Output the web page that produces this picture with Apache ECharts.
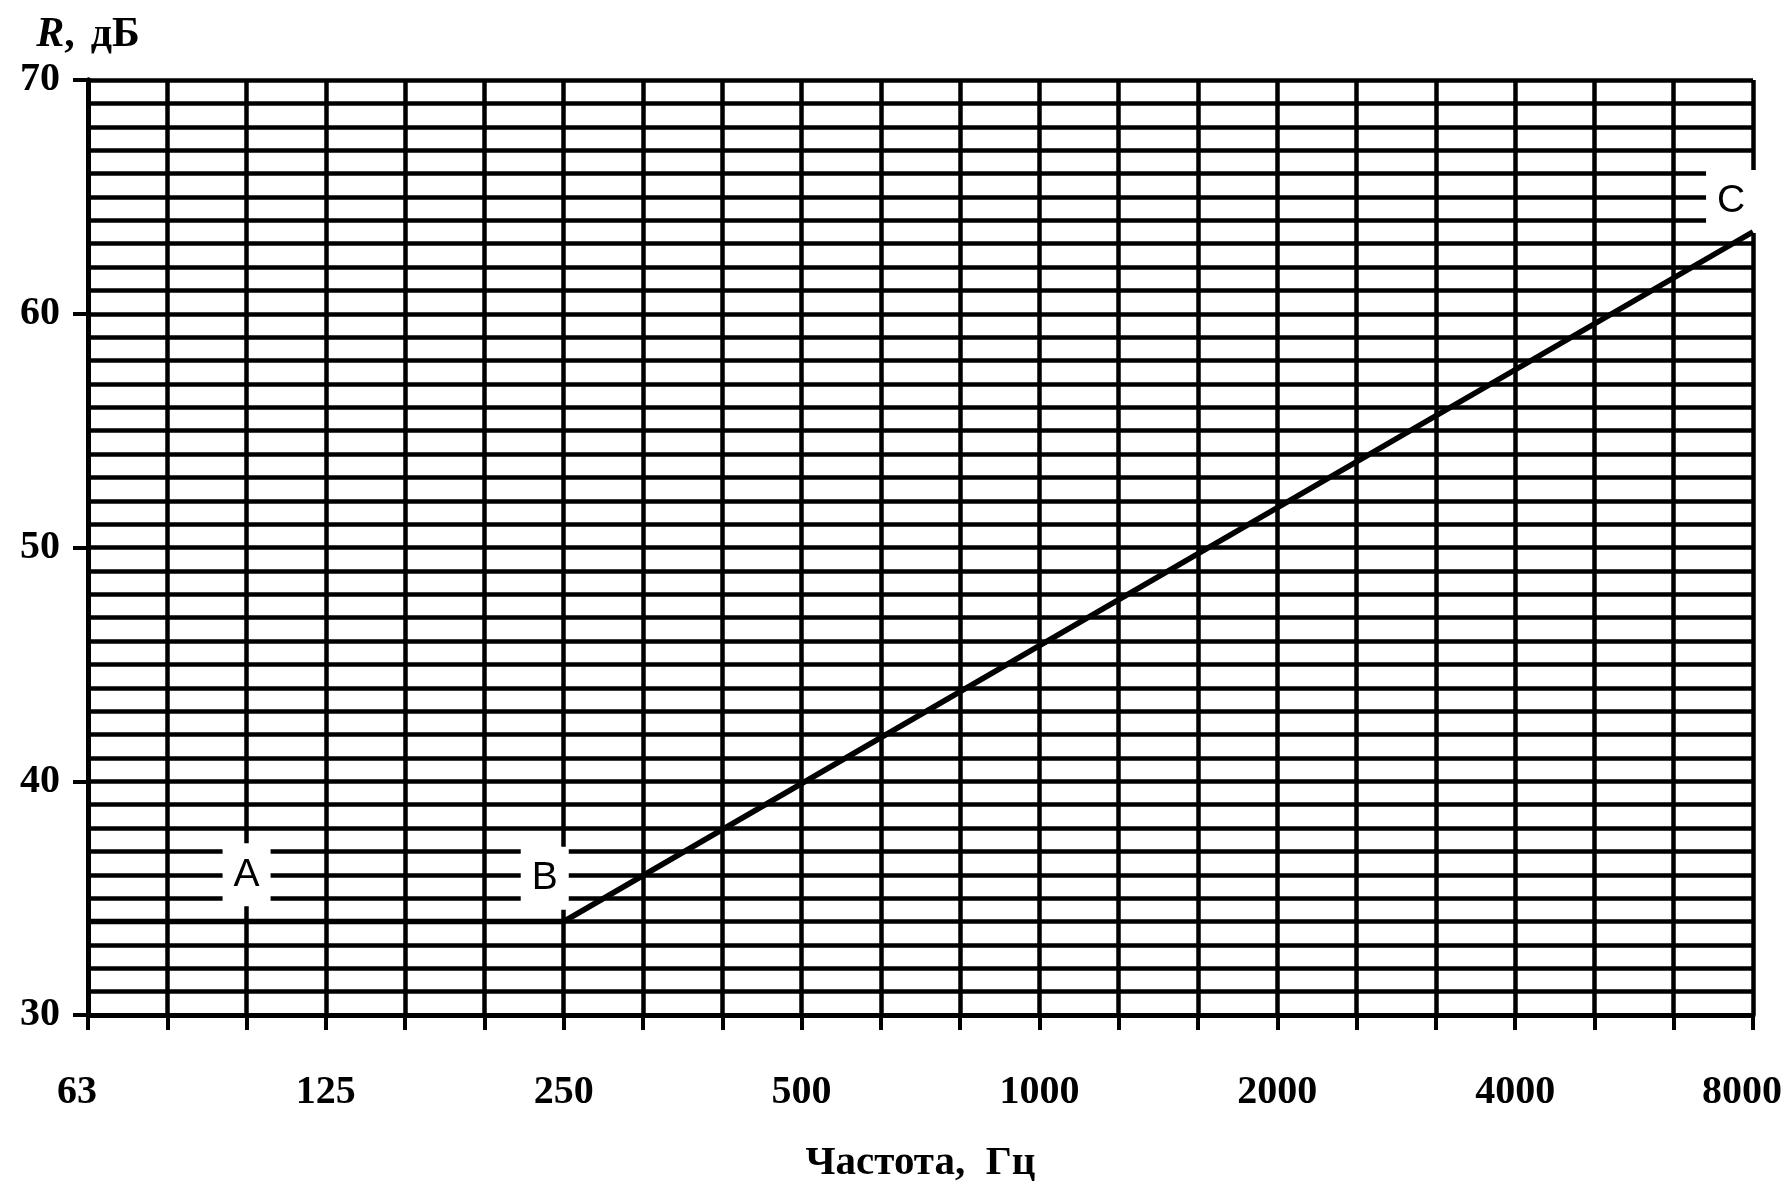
<!DOCTYPE html>
<html><head><meta charset="utf-8">
<script src="https://cdn.jsdelivr.net/npm/echarts@6/dist/echarts.min.js"></script>
<style>html,body{margin:0;padding:0;background:#fff}#c{width:1789px;height:1185px}</style>
</head><body><div id="c"></div>
<script>
// 1/3-octave band grid (x), frequency in Hz
const bandFreqs = [63,80,100,125,160,200,250,315,400,500,630,800,1000,1250,1600,2000,2500,3150,4000,5000,6300,8000];
// labelled octave frequencies
const xTickLabels = ['63','125','250','500','1000','2000','4000','8000'];
// y tick labels (dB)
const yTickLabels = [30,40,50,60,70];
// curve A-B-C
const curveFreq = [63, 250, 8000];
const curveDb = [34, 34, 63.5];
// point letters
const markFreq = [100, 237, 7490];
const markDb = [36, 35.85, 64.8];
const markText = ['A','B','C'];

// position of a frequency on the 1/3-octave (logarithmic) band scale
function toBand(f){
  const i = bandFreqs.indexOf(f);
  if (i >= 0) return i;
  for (let k = 0; k < bandFreqs.length - 1; k++){
    if (f > bandFreqs[k] && f < bandFreqs[k+1]){
      return k + Math.log(f/bandFreqs[k]) / Math.log(bandFreqs[k+1]/bandFreqs[k]);
    }
  }
  return 0;
}

const serif = 'Liberation Serif';
const chart = echarts.init(document.getElementById('c'), null, {renderer:'canvas'});
chart.setOption({
  animation:false,
  backgroundColor:'#fff',
  grid:{left:88, top:80, width:1665, height:935, containLabel:false, outerBoundsMode:'none'},
  xAxis:[{
    type:'value', min:0, max:21, interval:1,
    axisLine:{show:true, onZero:false, lineStyle:{color:'#000', width:5}},
    axisTick:{show:true, inside:false, length:15, lineStyle:{color:'#000', width:4}},
    axisLabel:{
      margin:58,
      formatter:function(v){
        if (v % 3 !== 0) return '';
        const t = xTickLabels[v/3];
        if (v === 0 || v === 21) return '{e|' + t + '}';
        return t;
      },
      fontFamily:serif, fontWeight:'bold', fontSize:40, color:'#000',
      rich:{
        e:{fontFamily:serif, fontWeight:'bold', fontSize:40, color:'#000', padding:[0,22,0,0]}
      }
    },
    splitLine:{show:true, lineStyle:{color:'#000', width:4.5}},
    name:'Частота,  Гц', nameLocation:'middle', nameGap:128,
    nameTextStyle:{fontFamily:serif, fontWeight:'bold', fontSize:41, color:'#000'}
  }],
  yAxis:[{
    type:'value', min:30, max:70, interval:1, position:'left',
    axisLine:{show:true, lineStyle:{color:'#000', width:5}},
    axisTick:{show:false},
    axisLabel:{show:false},
    splitLine:{show:true, lineStyle:{color:'#000', width:4.5}}
  },{
    type:'value', min:30, max:70, interval:10, position:'left',
    axisLine:{show:true, lineStyle:{color:'#000', width:5}},
    axisTick:{show:true, inside:false, length:15, lineStyle:{color:'#000', width:4}},
    axisLabel:{
      margin:28,
      formatter:function(v){ return yTickLabels.indexOf(v) >= 0 ? String(v) : ''; },
      fontFamily:serif, fontWeight:'bold', fontSize:40, color:'#000'
    },
    splitLine:{show:false},
    name:'{r|R}{n|,}{d|дБ}', nameLocation:'end', nameGap:24,
    nameTextStyle:{
      align:'center',
      rich:{
        r:{fontFamily:serif, fontStyle:'italic', fontWeight:'bold', fontSize:42, color:'#000'},
        n:{fontFamily:serif, fontWeight:'bold', fontSize:42, color:'#000'},
        d:{fontFamily:serif, fontWeight:'bold', fontSize:42, color:'#000', padding:[0,0,0,16]}
      }
    }
  }],
  series:[{
    type:'scatter', z:3,
    data:markFreq.map(function(f,i){ return [toBand(f), markDb[i]]; }),
    symbolSize:0,
    itemStyle:{opacity:1},
    label:{
      show:true, position:'inside',
      formatter:function(p){ return markText[p.dataIndex]; },
      fontFamily:'Liberation Sans', fontSize:39, color:'#000',
      backgroundColor:'#fff', padding:[12,11]
    }
  },{
    type:'line', z:5,
    data:curveFreq.map(function(f,i){ return [toBand(f), curveDb[i]]; }),
    showSymbol:false, symbol:'none',
    lineStyle:{color:'#000', width:5.5}
  }]
});
</script>
</body></html>
